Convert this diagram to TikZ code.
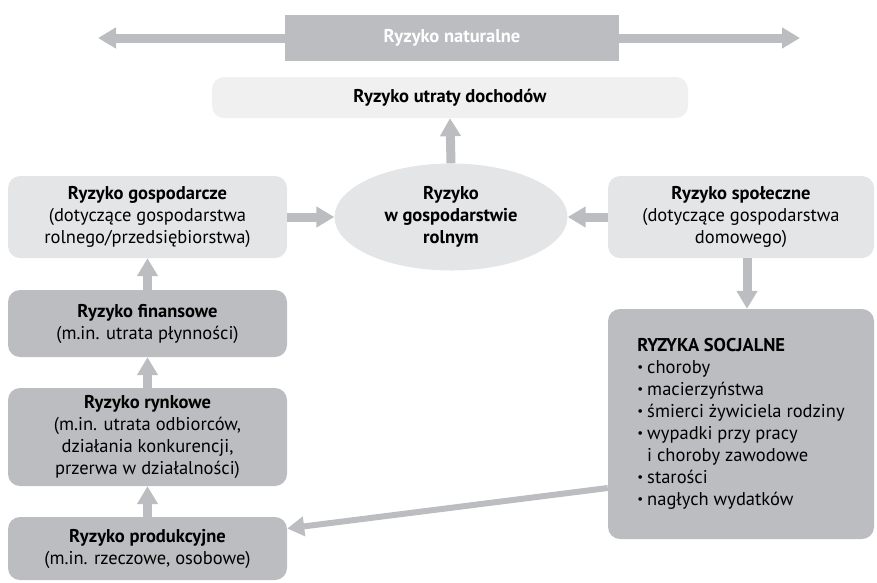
\documentclass[tikz,border=0pt]{standalone}
\usepackage{fontspec}
\setmainfont{PT Sans}
\usetikzlibrary{arrows.meta,shapes.geometric}
\definecolor{darkbox}{HTML}{BCBDC0}
\definecolor{lightbox}{HTML}{E4E5E6}
\definecolor{palebox}{HTML}{F0F0F1}
\newcommand{\riskbul}{\raisebox{2pt}{\fontsize{13}{13}\selectfont•}\kern4pt}
\tikzset{
  riskbox/.style={rounded corners=12pt, align=center, inner sep=0pt,
    font=\fontsize{18.5}{22}\selectfont},
  darkrisk/.style={riskbox, fill=darkbox},
  lightrisk/.style={riskbox, fill=lightbox},
  fat/.style={draw=darkbox, line width=9pt, -{Triangle[length=18pt,width=20pt]}},
  thin/.style={draw=darkbox, line width=6pt, -{Triangle[length=17pt,width=19pt]}}
}
\begin{document}
\begin{tikzpicture}[x=1pt,y=-1pt]
\useasboundingbox (0,0) rectangle (877,582);
	\coordinate (natL) at (98,38);
	\coordinate (natR) at (800,38);
	\node[fill=darkbox, minimum width=334pt, minimum height=46pt, inner sep=0pt,
	  text=white, font=\fontsize{18.5}{22}\selectfont\bfseries] at (452,38) (nat) {Ryzyko naturalne};
	\draw[fat] (nat.west) -- (natL);
	\draw[fat] (nat.east) -- (natR);
	\node[riskbox, fill=palebox, minimum width=476pt, minimum height=41pt] at (450,97.5) (utr) {\textbf{Ryzyko utraty dochodów}};
	\node[ellipse, fill=lightbox, minimum width=233pt, minimum height=107pt, inner sep=0pt, align=center,
	  font=\fontsize{18.5}{22}\selectfont\bfseries] at (451,217) (ell) {Ryzyko\\w gospodarstwie\\rolnym};
	\node[lightrisk, minimum width=279pt, minimum height=82pt] at (147.5,217) (gosp)
	  {\textbf{Ryzyko gospodarcze}\\(dotyczące gospodarstwa\\rolnego/przedsiębiorstwa)};
	\node[lightrisk, minimum width=266pt, minimum height=82pt] at (741,217) (spol)
	  {\textbf{Ryzyko społeczne}\\(dotyczące gospodarstwa\\domowego)};
	\node[darkrisk, minimum width=279pt, minimum height=67pt] at (147.5,323.5) (fin)
	  {\textbf{Ryzyko finansowe}\\(m.in. utrata płynności)};
	\node[darkrisk, minimum width=279pt, minimum height=98pt] at (147.5,437) (rynk)
	  {\textbf{Ryzyko rynkowe}\\(m.in. utrata odbiorców,\\działania konkurencji,\\przerwa w działalności)};
	\node[darkrisk, minimum width=279pt, minimum height=63pt] at (147.5,548.5) (prod)
	  {\textbf{Ryzyko produkcyjne}\\(m.in. rzeczowe, osobowe)};
	\node[darkrisk, align=left, minimum width=266pt, minimum height=230pt] at (741,424) (soc)
	  {\textbf{RYZYKA SOCJALNE}\\\riskbul choroby\\\riskbul macierzyństwa\\\riskbul śmierci żywiciela rodziny\\\riskbul wypadki przy pracy\\\hphantom{\riskbul}i choroby zawodowe\\\riskbul starości\\\riskbul nagłych wydatków};
	\draw[fat] (ell.north) -- (utr.south);
	\draw[fat] (gosp.east) -- (ell.west);
	\draw[fat] (spol.west) -- (ell.east);
	\draw[fat] (fin.north) -- (gosp.south);
	\draw[fat] (rynk.north) -- (fin.south);
	\draw[fat] (prod.north) -- (rynk.south);
	\draw[fat] ([xshift=6pt]spol.south) -- ([xshift=6pt]soc.north);
	\draw[thin] ([yshift=-64pt]soc.west) -- ([yshift=20pt]prod.east);
\end{tikzpicture}
\end{document}
